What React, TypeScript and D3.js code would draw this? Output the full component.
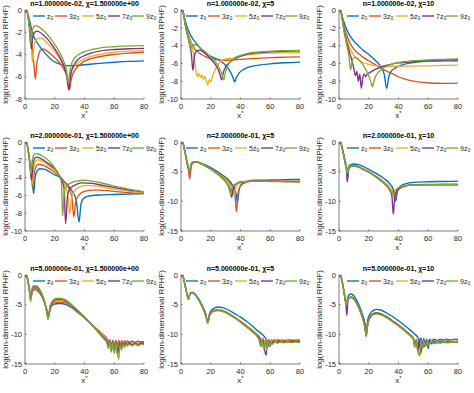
import React from "react";
import * as d3 from "d3";

type Pt = [number, number];

// legend prefixes (label = prefix + "z" + subscript 0)
const legendPrefix = ["", "3", "5", "7", "9"];
const colors = ["#0072BD", "#D95319", "#EDB120", "#7E2F8E", "#77AC30"];
const nValues = ["1.000000e-02", "2.000000e-01", "5.000000e-01"];
const chiValues = ["1.500000e+00", "5", "10"];
const yMins = [[-8, -10, -10], [-10, -15, -15], [-15, -15, -15]];
const yTickSteps = [[2, 2, 2], [2, 5, 5], [5, 5, 5]];
const xTicks = [0, 20, 40, 60, 80];

// ---- n = 1e-2, chi = 1.5
const r1c1Z1: Pt[] = [[0,-0.2],[1,0],[2,-0.4],[3,-0.9],[4,-1.5],[5,-2.0],[6,-2.4],[8,-2.9],[10,-3.3],[12,-3.65],[15,-4.1],[18,-4.5],[22,-4.8],[26,-4.95],[30,-5.0],[35,-4.98],[40,-4.92],[50,-4.8],[60,-4.7],[70,-4.62],[80,-4.57]];
const r1c1Z3: Pt[] = [[0,-0.2],[1,0],[2,-0.6],[3,-1.5],[4,-2.5],[5,-3.6],[6,-4.9],[7,-6.2],[8,-4.8],[9,-4.1],[10,-3.7],[12,-3.5],[14,-3.6],[17,-3.9],[20,-4.3],[23,-4.7],[26,-5.3],[28,-5.9],[29,-6.4],[30,-7.1],[31,-6.3],[32,-5.8],[34,-5.3],[37,-4.9],[40,-4.6],[45,-4.35],[50,-4.2],[60,-4.0],[70,-3.88],[80,-3.8]];
const r1c1Z5: Pt[] = [[0,-0.2],[1,0],[2,-0.5],[3,-1.4],[4,-2.6],[5,-4.7],[6,-3.3],[7,-2.8],[8,-2.6],[10,-2.5],[12,-2.6],[15,-3.0],[18,-3.4],[21,-3.9],[24,-4.5],[26,-5.0],[28,-5.8],[29.5,-7.0],[31,-5.7],[33,-5.1],[36,-4.7],[40,-4.4],[45,-4.15],[50,-4.0],[60,-3.8],[70,-3.7],[80,-3.65]];
const r1c1Z7: Pt[] = [[0,-0.2],[1,0],[2,-0.5],[3,-1.5],[4.3,-3.5],[5,-2.6],[6,-2.1],[7,-1.95],[8,-1.9],[10,-2.0],[12,-2.2],[15,-2.6],[18,-3.1],[21,-3.7],[24,-4.4],[26,-5.0],[28,-5.9],[29.5,-7.2],[31,-5.6],[33,-4.9],[36,-4.4],[40,-4.1],[45,-3.85],[50,-3.7],[60,-3.55],[70,-3.48],[80,-3.45]];
const r1c1Z9: Pt[] = [[0,-0.2],[1,0],[2,-0.6],[3,-1.8],[3.6,-3.1],[4.5,-2.1],[5.5,-1.6],[7,-1.4],[9,-1.5],[12,-1.8],[15,-2.2],[18,-2.7],[21,-3.3],[24,-4.0],[26,-4.6],[28,-5.5],[29,-6.5],[30.5,-5.2],[32,-4.6],[35,-4.1],[40,-3.75],[45,-3.55],[50,-3.42],[60,-3.3],[70,-3.23],[80,-3.2]];

// ---- n = 1e-2, chi = 5
const r1c2Z1: Pt[] = [[0,-0.2],[1,0],[2,-0.6],[3,-1.3],[5,-2.3],[7,-3.0],[10,-3.7],[13,-4.3],[16,-4.8],[20,-5.2],[24,-5.5],[28,-5.9],[31,-6.4],[33,-6.9],[35,-7.6],[36,-8.1],[37,-7.7],[39,-7.1],[42,-6.7],[46,-6.4],[50,-6.25],[60,-6.05],[70,-5.93],[80,-5.85]];
const r1c2Z3: Pt[] = [[0,-0.2],[1,0],[2,-0.7],[3,-1.6],[5,-2.8],[7,-3.7],[9,-4.3],[12,-4.8],[16,-5.2],[20,-5.45],[25,-5.6],[30,-5.65],[35,-5.6],[40,-5.55],[50,-5.45],[60,-5.35],[70,-5.3],[80,-5.27]];
const r1c2Z5: Pt[] = [[0,-0.2],[1,0],[2,-0.7],[3,-1.7],[5,-3.0],[7,-4.0],[8,-4.6],[9,-5.5],[10,-6.8],[11,-7.5],[12,-7.1],[13,-7.6],[14,-7.3],[15,-7.8],[16,-7.4],[17,-8.0],[18,-8.4],[19,-7.8],[20,-8.1],[21,-7.5],[22,-7.1],[23,-6.7],[25,-6.1],[27,-5.7],[30,-5.5],[35,-5.4],[40,-5.15],[50,-4.95],[60,-4.85],[70,-4.82],[80,-4.8]];
const r1c2Z7: Pt[] = [[0,-0.2],[1,0],[2,-0.8],[3,-1.8],[5,-3.3],[6,-4.0],[7,-5.0],[8,-6.8],[9,-5.2],[10,-4.7],[12,-4.5],[14,-4.6],[17,-5.0],[20,-5.5],[23,-6.1],[25,-6.7],[26.3,-7.3],[27.3,-7.85],[28.5,-7.0],[30,-6.4],[32,-6.0],[35,-5.6],[40,-5.2],[45,-4.95],[50,-4.82],[60,-4.7],[70,-4.63],[80,-4.6]];
const r1c2Z9: Pt[] = [[0,-0.2],[1,0],[2,-0.8],[3,-1.8],[5,-3.2],[6.5,-4.4],[7.5,-4.0],[9,-3.9],[11,-4.0],[14,-4.4],[17,-4.8],[20,-5.3],[23,-5.8],[26,-6.6],[27.5,-7.2],[28.7,-7.85],[30,-6.9],[32,-6.1],[35,-5.55],[40,-5.1],[45,-4.88],[50,-4.75],[60,-4.63],[70,-4.57],[80,-4.55]];

// ---- n = 1e-2, chi = 10
const r1c3Z1: Pt[] = [[0,-0.2],[1,0],[2,-0.6],[3,-1.2],[5,-2.1],[7,-2.8],[10,-3.5],[13,-4.0],[16,-4.5],[20,-5.0],[24,-5.6],[27,-6.1],[29,-6.6],[30.5,-7.3],[32,-8.8],[33.5,-7.5],[35,-6.9],[38,-6.5],[42,-6.2],[50,-5.9],[60,-5.7],[70,-5.6],[80,-5.55]];
const r1c3Z3: Pt[] = [[0,-0.2],[1,0],[2,-0.8],[3,-1.6],[5,-2.7],[7,-3.6],[10,-4.4],[13,-4.9],[16,-5.3],[20,-5.7],[25,-6.2],[30,-6.7],[35,-7.1],[40,-7.5],[45,-7.8],[50,-8.0],[55,-8.1],[60,-8.2],[70,-8.25],[80,-8.22]];
const r1c3Z5: Pt[] = [[0,-0.2],[1,0],[2,-0.8],[3,-1.8],[5,-3.2],[7,-4.2],[10,-5.1],[13,-5.6],[16,-5.9],[20,-6.1],[25,-6.25],[30,-6.3],[40,-6.32],[50,-6.3],[60,-6.27],[70,-6.23],[80,-6.2]];
const r1c3Z7: Pt[] = [[0,-0.2],[1,0],[2,-0.8],[3,-1.9],[5,-3.5],[7,-4.7],[8.5,-5.6],[10,-6.6],[11,-7.4],[12,-6.9],[13,-8.0],[14,-7.2],[15,-8.8],[16,-7.6],[17,-7.2],[18,-7.5],[19,-7.2],[21,-7.0],[24,-6.7],[27,-6.5],[30,-6.3],[35,-6.1],[40,-5.95],[50,-5.82],[60,-5.75],[70,-5.72],[80,-5.7]];
const r1c3Z9: Pt[] = [[0,-0.2],[1,0],[2,-0.9],[3,-2.0],[5,-3.8],[6.5,-5.0],[7.8,-6.7],[9,-5.6],[10.5,-5.3],[12,-5.4],[14,-5.7],[16,-6.1],[18,-6.7],[20,-7.4],[21.5,-8.1],[22.5,-8.65],[23.5,-8.0],[25,-7.3],[27,-6.9],[30,-6.5],[35,-6.1],[40,-5.9],[50,-5.7],[60,-5.6],[70,-5.55],[80,-5.5]];

// ---- n = 0.2, chi = 1.5
const r2c1Z1: Pt[] = [[0,-0.2],[1,0],[2,-0.8],[3,-2.0],[4,-3.3],[5,-4.6],[5.8,-5.8],[6.8,-4.0],[8,-3.3],[10,-3.0],[13,-3.05],[16,-3.3],[20,-3.7],[23,-3.9],[26,-4.4],[29,-4.9],[32,-5.6],[34.5,-6.6],[36.3,-9.0],[37.6,-7.0],[39,-6.4],[42,-6.1],[50,-5.95],[60,-5.9],[70,-5.85],[80,-5.8]];
const r2c1Z3: Pt[] = [[0,-0.2],[1,0],[2,-0.8],[3,-2.0],[4,-3.4],[5.3,-5.3],[6.3,-3.4],[7.5,-2.7],[9,-2.5],[12,-2.6],[15,-2.85],[19,-3.3],[23,-3.8],[27,-4.6],[30,-5.4],[31.5,-6.2],[32.8,-8.4],[34,-6.8],[36,-6.0],[40,-5.55],[45,-5.4],[50,-5.4],[60,-5.55],[70,-5.7],[80,-5.8]];
const r2c1Z5: Pt[] = [[0,-0.2],[1,0],[2,-0.8],[3,-2.0],[4,-3.4],[4.9,-4.8],[5.8,-3.0],[7,-2.2],[8.5,-2.0],[11,-2.1],[14,-2.4],[18,-2.9],[21,-3.4],[23,-3.75],[25,-4.3],[27.5,-5.2],[29,-6.2],[30,-8.1],[31.2,-6.4],[33,-5.6],[36,-5.1],[40,-4.9],[45,-4.9],[50,-5.0],[60,-5.3],[70,-5.55],[80,-5.7]];
const r2c1Z7: Pt[] = [[0,-0.2],[1,0],[2,-0.8],[3,-2.0],[4.4,-4.3],[5.3,-2.6],[6.3,-1.9],[7.5,-1.7],[10,-1.8],[13,-2.1],[17,-2.6],[21,-3.2],[23,-3.75],[25,-4.4],[26.3,-5.3],[27.3,-9.2],[28.6,-6.0],[30,-5.3],[33,-4.9],[38,-4.6],[45,-4.65],[50,-4.8],[60,-5.1],[70,-5.4],[80,-5.6]];
const r2c1Z9: Pt[] = [[0,-0.2],[1,0],[2,-0.8],[3,-2.0],[4,-3.6],[4.8,-2.2],[5.8,-1.5],[7,-1.3],[9,-1.35],[12,-1.6],[16,-2.1],[20,-2.9],[23,-3.75],[24.5,-4.6],[25.3,-8.3],[26.5,-5.4],[28,-4.9],[31,-4.6],[35,-4.4],[40,-4.3],[45,-4.4],[50,-4.55],[60,-4.95],[70,-5.3],[80,-5.6]];

// ---- n = 0.2, chi = 5
const r2c2Z1: Pt[] = [[0,-0.2],[1,0],[2,-0.8],[3,-2.0],[4,-3.2],[5,-4.3],[5.8,-5.2],[6.8,-3.9],[8,-3.4],[10,-3.3],[13,-3.5],[16,-3.8],[20,-4.3],[24,-4.9],[28,-5.6],[32,-6.4],[35,-7.4],[37,-8.6],[38,-10.2],[39,-8.0],[41,-7.0],[45,-6.6],[50,-6.45],[60,-6.4],[70,-6.35],[80,-6.3]];
const r2c2Z3: Pt[] = [[0,-0.2],[1,0],[2,-0.9],[3,-2.2],[4,-3.5],[5,-4.7],[5.9,-6.2],[6.9,-4.1],[8,-3.5],[10,-3.4],[13,-3.6],[16,-3.95],[20,-4.5],[24,-5.1],[28,-5.8],[32,-6.7],[35,-7.8],[36.5,-9.5],[37.3,-11.8],[38.3,-8.8],[40,-7.4],[44,-6.8],[50,-6.6],[60,-6.6],[70,-6.6],[80,-6.6]];
const r2c2Z5: Pt[] = [[0,-0.2],[1,0],[2,-0.9],[3,-2.1],[4,-3.4],[5,-4.5],[5.8,-5.4],[6.8,-4.0],[8,-3.5],[10,-3.4],[13,-3.6],[16,-4.0],[20,-4.6],[24,-5.2],[28,-5.9],[32,-6.9],[34.5,-8.0],[35.5,-9.0],[36.8,-7.8],[39,-7.0],[43,-6.7],[50,-6.6],[60,-6.6],[70,-6.62],[80,-6.65]];
const r2c2Z7: Pt[] = [[0,-0.2],[1,0],[2,-0.9],[3,-2.1],[4,-3.4],[5,-4.5],[5.7,-5.3],[6.7,-3.9],[8,-3.4],[10,-3.35],[13,-3.6],[16,-4.0],[20,-4.6],[24,-5.3],[28,-6.1],[31,-7.0],[33,-8.0],[34,-9.3],[35.3,-7.7],[37.5,-7.0],[41,-6.7],[50,-6.6],[60,-6.6],[70,-6.65],[80,-6.7]];
const r2c2Z9: Pt[] = [[0,-0.2],[1,0],[2,-0.9],[3,-2.1],[4,-3.3],[5,-4.4],[5.6,-5.0],[6.6,-3.8],[8,-3.3],[10,-3.3],[13,-3.55],[16,-3.95],[20,-4.6],[24,-5.3],[28,-6.2],[31,-7.1],[32.5,-8.0],[33.3,-8.8],[34.5,-7.6],[37,-7.0],[41,-6.7],[50,-6.6],[60,-6.65],[70,-6.7],[80,-6.75]];

// ---- n = 0.2, chi = 10
const r2c3Z1: Pt[] = [[0,-0.2],[1,0],[2,-0.8],[3,-1.9],[4,-3.0],[5,-4.1],[5.7,-5.0],[6.7,-4.1],[8,-3.8],[10,-3.7],[13,-3.8],[16,-4.1],[20,-4.6],[25,-5.3],[30,-6.1],[34,-7.0],[36.5,-8.0],[38,-10.0],[39.3,-8.3],[41,-7.5],[45,-7.0],[50,-6.8],[60,-6.7],[70,-6.65],[80,-6.6]];
const r2c3Z3: Pt[] = [[0,-0.2],[1,0],[2,-0.9],[3,-2.0],[4,-3.2],[5,-4.3],[5.7,-5.2],[6.7,-4.4],[8,-4.1],[10,-4.0],[13,-4.15],[16,-4.5],[20,-5.0],[25,-5.8],[30,-6.7],[34,-7.7],[36.5,-8.7],[37.5,-9.6],[38.7,-8.5],[41,-7.8],[45,-7.4],[50,-7.2],[60,-7.15],[70,-7.12],[80,-7.1]];
const r2c3Z5: Pt[] = [[0,-0.2],[1,0],[2,-0.9],[3,-2.0],[4,-3.2],[5,-4.4],[5.7,-5.3],[6.7,-4.4],[8,-4.1],[10,-4.0],[13,-4.2],[16,-4.55],[20,-5.05],[25,-5.85],[30,-6.8],[34,-7.8],[36.2,-8.6],[37.2,-9.3],[38.4,-8.4],[41,-7.8],[45,-7.4],[50,-7.25],[60,-7.2],[70,-7.15],[80,-7.15]];
const r2c3Z7: Pt[] = [[0,-0.2],[1,0],[2,-0.9],[3,-2.1],[4,-3.4],[5,-4.8],[5.6,-6.7],[6.6,-4.5],[8,-4.1],[10,-4.05],[13,-4.2],[16,-4.6],[20,-5.1],[25,-5.9],[30,-6.9],[33.5,-7.9],[35.5,-9.0],[36.5,-12.2],[37.5,-9.2],[39,-8.2],[42,-7.6],[46,-7.3],[50,-7.2],[60,-7.2],[70,-7.2],[80,-7.2]];
const r2c3Z9: Pt[] = [[0,-0.2],[1,0],[2,-0.9],[3,-2.1],[4,-3.3],[5,-4.5],[5.6,-5.3],[6.6,-4.4],[8,-4.1],[10,-4.05],[13,-4.25],[16,-4.6],[20,-5.1],[25,-5.95],[30,-6.9],[33,-7.7],[35.5,-8.5],[36.5,-9.0],[37.7,-8.2],[40,-7.7],[44,-7.4],[50,-7.25],[60,-7.2],[70,-7.2],[80,-7.2]];

// ---- n = 0.5, chi = 1.5
const r3c1Z1: Pt[] = [[0,-0.2],[1,0],[2,-1.0],[3,-2.5],[3.8,-4.0],[4.8,-2.9],[6,-2.5],[7.5,-2.5],[9,-2.8],[11,-3.5],[13,-4.6],[14.7,-5.8],[15.9,-6.6],[17,-5.6],[19,-5.0],[21,-4.85],[24,-4.8],[27,-4.95],[30,-5.3],[34,-6.0],[38,-6.8],[42,-7.7],[46,-8.6],[50,-9.5],[53,-10.2],[55,-10.7],[56,-11.3],[57,-10.9],[58,-11.8],[59,-11.2],[60,-12.0],[61,-11.1],[62,-11.8],[63,-11.1],[64,-11.6],[65,-11.1],[66,-11.5],[67,-11.1],[68,-11.45],[69,-11.1],[70,-11.4],[72,-11.15],[74,-11.35],[76,-11.15],[78,-11.3],[80,-11.2]];
const r3c1Z3: Pt[] = [[0,-0.2],[1,0],[2,-1.1],[3,-2.7],[3.8,-4.4],[4.8,-2.8],[6,-2.3],[7.5,-2.3],[9,-2.6],[11,-3.3],[13,-4.5],[14.7,-5.9],[15.9,-6.9],[17,-5.5],[19,-4.8],[21,-4.6],[24,-4.55],[27,-4.7],[30,-5.1],[34,-5.85],[38,-6.7],[42,-7.6],[46,-8.6],[50,-9.6],[53,-10.3],[55,-10.8],[56,-11.6],[57,-10.9],[58,-12.1],[59,-11.0],[60,-12.4],[61,-11.0],[62,-12.0],[63,-11.0],[64,-11.7],[65,-11.1],[66,-11.6],[67,-11.1],[68,-11.5],[69,-11.15],[70,-11.45],[72,-11.2],[74,-11.4],[76,-11.2],[78,-11.35],[80,-11.25]];
const r3c1Z5: Pt[] = [[0,-0.2],[1,0],[2,-1.1],[3,-2.6],[3.7,-4.1],[4.7,-2.6],[6,-2.1],[7.5,-2.1],[9,-2.4],[11,-3.2],[13,-4.4],[14.6,-5.9],[15.8,-7.0],[17,-5.4],[19,-4.6],[21,-4.35],[24,-4.3],[27,-4.5],[30,-4.95],[34,-5.75],[38,-6.65],[42,-7.6],[46,-8.6],[50,-9.7],[53,-10.4],[55,-11.0],[56,-12.0],[57,-11.0],[58,-12.6],[59,-11.1],[60,-13.0],[61,-11.2],[62,-13.5],[63,-11.3],[64,-12.2],[65,-11.3],[66,-11.9],[67,-11.3],[68,-11.7],[69,-11.35],[70,-11.65],[72,-11.35],[74,-11.6],[76,-11.35],[78,-11.55],[80,-11.45]];
const r3c1Z7: Pt[] = [[0,-0.2],[1,0],[2,-1.1],[3,-2.6],[3.6,-3.9],[4.6,-2.5],[6,-2.0],[7.5,-2.0],[9,-2.3],[11,-3.1],[13,-4.4],[14.5,-6.0],[15.7,-7.2],[17,-5.3],[19,-4.4],[21,-4.15],[24,-4.1],[27,-4.35],[30,-4.85],[34,-5.7],[38,-6.6],[42,-7.6],[46,-8.7],[50,-9.8],[53,-10.6],[55,-11.2],[56,-12.2],[57,-11.1],[58,-12.8],[59,-11.2],[60,-13.0],[61,-11.3],[62.5,-13.2],[63.5,-11.4],[64.5,-12.3],[65.5,-11.4],[66.5,-12.0],[67.5,-11.4],[68.5,-11.8],[70,-11.45],[72,-11.75],[74,-11.45],[76,-11.7],[78,-11.45],[80,-11.6]];
const r3c1Z9: Pt[] = [[0,-0.2],[1,0],[2,-1.2],[3,-2.7],[3.5,-3.8],[4.5,-2.3],[6,-1.8],[7.5,-1.8],[9,-2.1],[11,-2.9],[13,-4.3],[14.4,-6.0],[15.5,-7.5],[16.8,-5.2],[19,-4.2],[21,-3.95],[24,-3.9],[27,-4.15],[30,-4.7],[34,-5.6],[38,-6.55],[42,-7.6],[46,-8.7],[50,-9.9],[53,-10.8],[55,-11.4],[56,-12.4],[57,-11.3],[58,-13.0],[59,-11.4],[60,-13.2],[61,-11.5],[62,-13.0],[63,-14.2],[64,-11.6],[65,-12.6],[66,-11.6],[67,-12.2],[68,-11.6],[69,-12.0],[70,-11.65],[72,-11.95],[74,-11.65],[76,-11.9],[78,-11.65],[80,-11.8]];

// ---- n = 0.5, chi = 5
const r3c2Z1: Pt[] = [[0,-0.2],[1,0],[2,-0.8],[3,-2.0],[4,-3.1],[5,-3.9],[6,-3.2],[7.5,-2.9],[9,-3.1],[11,-3.7],[13,-4.5],[15,-5.5],[16.7,-6.6],[18,-7.9],[19.2,-6.5],[21,-5.8],[23,-5.5],[25,-5.4],[28,-5.5],[32,-5.9],[36,-6.5],[40,-7.1],[44,-7.8],[48,-8.6],[52,-9.5],[55,-10.1],[57,-10.7],[58,-11.6],[59,-10.9],[60,-12.0],[61,-10.9],[62,-11.4],[63,-10.9],[64,-11.2],[65,-10.9],[66,-11.15],[68,-10.95],[70,-11.1],[72,-10.95],[75,-11.05],[78,-10.95],[80,-11.0]];
const r3c2Z3: Pt[] = [[0,-0.2],[1,0],[2,-0.9],[3,-2.1],[4,-3.2],[5,-4.1],[6,-3.2],[7.5,-3.0],[9,-3.2],[11,-3.8],[13,-4.7],[15,-5.7],[16.7,-6.8],[18,-8.0],[19.2,-6.7],[21,-6.1],[23,-5.9],[25,-5.85],[28,-6.0],[32,-6.45],[36,-7.1],[40,-7.8],[44,-8.5],[48,-9.3],[51,-10.0],[53,-10.5],[54,-11.4],[55,-10.6],[56,-12.0],[57,-10.8],[58,-12.3],[59,-10.9],[60,-11.6],[61,-10.95],[62,-11.4],[63,-10.95],[64,-11.25],[66,-11.0],[68,-11.2],[70,-11.0],[72,-11.15],[75,-11.0],[78,-11.1],[80,-11.05]];
const r3c2Z5: Pt[] = [[0,-0.2],[1,0],[2,-0.9],[3,-2.1],[4,-3.2],[5,-4.1],[6,-3.2],[7.5,-3.0],[9,-3.2],[11,-3.8],[13,-4.7],[15,-5.7],[16.7,-6.8],[18,-8.0],[19.2,-6.8],[21,-6.15],[23,-5.95],[25,-5.9],[28,-6.05],[32,-6.5],[36,-7.15],[40,-7.85],[44,-8.6],[48,-9.4],[51,-10.1],[53,-10.7],[54,-11.8],[55,-10.7],[56,-12.3],[57,-10.9],[58,-12.0],[59,-11.0],[60,-11.7],[61,-11.0],[62,-11.5],[64,-11.1],[66,-11.35],[68,-11.1],[70,-11.3],[72,-11.1],[75,-11.25],[78,-11.1],[80,-11.2]];
const r3c2Z7: Pt[] = [[0,-0.2],[1,0],[2,-0.9],[3,-2.1],[4,-3.2],[5,-4.1],[6,-3.2],[7.5,-3.0],[9,-3.2],[11,-3.8],[13,-4.7],[15,-5.7],[16.7,-6.9],[18,-8.1],[19.2,-6.8],[21,-6.2],[23,-6.0],[25,-5.95],[28,-6.1],[32,-6.55],[36,-7.2],[40,-7.9],[44,-8.7],[48,-9.5],[51,-10.2],[53,-10.8],[54,-12.0],[55,-10.8],[56,-12.5],[57.3,-13.5],[58,-11.0],[59,-12.0],[60,-11.1],[61,-11.6],[62,-11.1],[64,-11.4],[66,-11.15],[68,-11.35],[70,-11.15],[72,-11.3],[75,-11.15],[78,-11.25],[80,-11.2]];
const r3c2Z9: Pt[] = [[0,-0.2],[1,0],[2,-0.9],[3,-2.1],[4,-3.2],[5,-4.1],[6,-3.2],[7.5,-3.0],[9,-3.2],[11,-3.8],[13,-4.7],[15,-5.8],[16.7,-7.0],[18,-8.1],[19.2,-6.9],[21,-6.3],[23,-6.05],[25,-6.0],[28,-6.15],[32,-6.6],[36,-7.25],[40,-7.95],[44,-8.75],[48,-9.6],[51,-10.3],[52.5,-11.0],[53.5,-12.0],[54.5,-10.9],[55.5,-12.4],[56.5,-11.0],[57.5,-12.6],[58.5,-11.1],[59.5,-12.0],[60.5,-11.2],[61.5,-11.7],[63,-11.2],[65,-11.5],[67,-11.25],[69,-11.45],[71,-11.25],[74,-11.4],[77,-11.3],[80,-11.4]];

// ---- n = 0.5, chi = 10
const r3c3Z1: Pt[] = [[0,-0.2],[1,0],[2,-0.9],[3,-2.2],[4,-3.6],[5,-4.8],[6,-3.7],[7,-3.3],[8.3,-3.2],[10,-3.5],[12,-4.3],[14,-5.4],[16,-6.8],[17.5,-8.2],[18.3,-9.5],[19.3,-7.6],[21,-6.5],[23,-6.0],[25,-5.8],[28,-5.9],[32,-6.4],[36,-7.0],[40,-7.7],[44,-8.5],[48,-9.3],[51,-10.0],[53,-10.5],[54,-11.3],[55,-10.6],[56,-11.8],[57,-10.7],[58,-12.0],[59,-10.8],[60,-12.4],[61,-10.8],[62,-11.2],[64,-10.8],[66,-11.05],[68,-10.8],[70,-11.0],[72,-10.8],[75,-10.95],[78,-10.8],[80,-10.85]];
const r3c3Z3: Pt[] = [[0,-0.2],[1,0],[2,-0.9],[3,-2.3],[4,-3.8],[5,-5.0],[6,-4.1],[7,-3.8],[8.3,-3.7],[10,-4.0],[12,-4.8],[14,-5.9],[16,-7.3],[17.5,-8.8],[18.3,-10.2],[19.3,-8.2],[21,-7.0],[23,-6.5],[25,-6.35],[28,-6.5],[32,-7.0],[36,-7.7],[40,-8.4],[44,-9.2],[48,-10.1],[50,-10.6],[51,-11.6],[52,-10.8],[53,-12.4],[54,-11.0],[55,-12.8],[56,-11.1],[57,-12.0],[58,-11.1],[59,-11.6],[60,-11.1],[62,-11.4],[64,-11.1],[66,-11.3],[68,-11.1],[70,-11.25],[73,-11.1],[76,-11.2],[80,-11.15]];
const r3c3Z5: Pt[] = [[0,-0.2],[1,0],[2,-0.9],[3,-2.3],[4,-3.8],[5,-5.0],[6,-4.1],[7,-3.8],[8.3,-3.7],[10,-4.0],[12,-4.8],[14,-5.9],[16,-7.3],[17.5,-8.9],[18.3,-10.4],[19.3,-8.3],[21,-7.1],[23,-6.6],[25,-6.45],[28,-6.6],[32,-7.1],[36,-7.8],[40,-8.5],[44,-9.3],[48,-10.2],[50,-10.7],[51,-11.8],[52,-10.9],[53,-12.6],[54.5,-13.5],[55.3,-11.1],[56,-12.3],[57,-11.1],[58,-11.8],[59,-11.15],[60,-11.6],[62,-11.2],[64,-11.45],[66,-11.2],[68,-11.35],[70,-11.2],[73,-11.3],[76,-11.2],[80,-11.25]];
const r3c3Z7: Pt[] = [[0,-0.2],[1,0],[2,-1.0],[3,-2.4],[4,-4.0],[4.8,-5.3],[5.3,-6.8],[6,-4.3],[7,-3.8],[8.3,-3.75],[10,-4.05],[12,-4.85],[14,-5.95],[16,-7.35],[17.5,-8.9],[18.3,-10.3],[19.3,-8.3],[21,-7.1],[23,-6.6],[25,-6.45],[28,-6.6],[32,-7.1],[36,-7.8],[40,-8.55],[44,-9.35],[48,-10.25],[50,-10.8],[51,-12.0],[52,-11.0],[53,-12.8],[54,-11.1],[55,-13.2],[56,-11.2],[57,-12.2],[58,-11.2],[59,-11.8],[60,-11.2],[62,-11.6],[64,-11.25],[66,-11.45],[68,-11.25],[70,-11.4],[73,-11.25],[76,-11.35],[80,-11.3]];
const r3c3Z9: Pt[] = [[0,-0.2],[1,0],[2,-1.0],[3,-2.4],[4,-3.9],[5,-5.1],[6,-4.2],[7,-3.9],[8.3,-3.8],[10,-4.1],[12,-4.9],[14,-6.0],[16,-7.4],[17.5,-9.0],[18.3,-10.2],[19.3,-8.4],[21,-7.2],[23,-6.7],[25,-6.55],[28,-6.7],[32,-7.2],[36,-7.9],[40,-8.6],[44,-9.4],[48,-10.3],[50,-10.9],[51,-12.2],[52,-11.1],[53,-13.0],[54.3,-13.6],[55,-11.2],[56,-12.4],[57,-11.3],[58,-12.0],[59,-11.3],[60,-11.8],[62,-11.3],[64,-11.6],[66,-11.3],[68,-11.5],[70,-11.3],[73,-11.45],[76,-11.3],[80,-11.4]];

const panelSeries: Pt[][][][] = [
  [[r1c1Z1, r1c1Z3, r1c1Z5, r1c1Z7, r1c1Z9], [r1c2Z1, r1c2Z3, r1c2Z5, r1c2Z7, r1c2Z9], [r1c3Z1, r1c3Z3, r1c3Z5, r1c3Z7, r1c3Z9]],
  [[r2c1Z1, r2c1Z3, r2c1Z5, r2c1Z7, r2c1Z9], [r2c2Z1, r2c2Z3, r2c2Z5, r2c2Z7, r2c2Z9], [r2c3Z1, r2c3Z3, r2c3Z5, r2c3Z7, r2c3Z9]],
  [[r3c1Z1, r3c1Z3, r3c1Z5, r3c1Z7, r3c1Z9], [r3c2Z1, r3c2Z3, r3c2Z5, r3c2Z7, r3c2Z9], [r3c3Z1, r3c3Z3, r3c3Z5, r3c3Z7, r3c3Z9]],
];

const W = 474;
const H = 393;
const colLeft = [25, 181, 339];
const rowTop = [10, 142, 275];
const plotW = 119;
const plotH = 89;
const legendOffsets = [8, 30, 57, 83, 107];
const axisColor = "#262626";
const font = "Liberation Sans, Arial, Helvetica, sans-serif";

function Panel({ row, col }: { row: number; col: number }) {
  const left = colLeft[col];
  const top = rowTop[row];
  const yMin = yMins[row][col];
  const step = yTickSteps[row][col];
  const x = d3.scaleLinear().domain([0, 80]).range([left, left + plotW]);
  const y = d3.scaleLinear().domain([yMin, 0]).range([top + plotH, top]);
  const yTicks = d3.range(0, yMin - 0.001, -step);
  const line = d3
    .line<Pt>()
    .x((d) => x(d[0]))
    .y((d) => y(d[1]))
    .curve(d3.curveMonotoneX);
  const clipId = `clip-${row}-${col}`;
  const bottom = top + plotH;
  const legendOffsetX = col === 1 ? -3 : 0;

  return (
    <g fontFamily={font}>
      <defs>
        <clipPath id={clipId}>
          <rect x={left} y={top} width={plotW} height={plotH} />
        </clipPath>
      </defs>
      <g clipPath={`url(#${clipId})`}>
        {panelSeries[row][col].map((s, i) => (
          <path key={i} d={line(s) || ""} fill="none" stroke={colors[i]} strokeWidth={1.35} />
        ))}
      </g>
      {/* axes */}
      <line x1={left} x2={left} y1={top} y2={bottom} stroke={axisColor} strokeWidth={0.6} />
      <line x1={left} x2={left + plotW} y1={bottom} y2={bottom} stroke={axisColor} strokeWidth={0.6} />
      {xTicks.map((t) => (
        <g key={t}>
          <line x1={x(t)} x2={x(t)} y1={bottom} y2={bottom - 1.5} stroke={axisColor} strokeWidth={0.6} />
          <text x={x(t)} y={bottom + 10} fontSize={7.5} textAnchor="middle" fill={axisColor}>
            {t}
          </text>
        </g>
      ))}
      {yTicks.map((t) => (
        <g key={t}>
          <line x1={left} x2={left + 1.5} y1={y(t)} y2={y(t)} stroke={axisColor} strokeWidth={0.6} />
          <text x={left - 3} y={y(t) + 2.7} fontSize={7.5} textAnchor="end" fill={axisColor}>
            {t}
          </text>
        </g>
      ))}
      {/* axis labels */}
      <text x={x(40)} y={bottom + 19} fontSize={8} textAnchor="middle" fill={axisColor}>
        x<tspan dy={-3.5} fontSize={6}>*</tspan>
      </text>
      <text
        transform={`translate(${left - 17.5},${top + plotH / 2}) rotate(-90)`}
        fontSize={8}
        textAnchor="middle"
        fill={axisColor}
      >
        log(non-dimensional RPHF)
      </text>
      {/* title */}
      <text x={x(40)} y={top - 4} fontSize={7} fontWeight="bold" textAnchor="middle" fill="#000">
        n={nValues[row]}, χ={chiValues[col]}
      </text>
      {/* legend */}
      {legendPrefix.map((p, i) => {
        const lx = left + legendOffsets[i] + legendOffsetX;
        const ly = top + 6;
        return (
          <g key={i}>
            <line x1={lx} x2={lx + 12} y1={ly} y2={ly} stroke={colors[i]} strokeWidth={1.35} />
            <text x={lx + 14} y={ly + 2.5} fontSize={7} fill={axisColor}>
              {p}z<tspan dy={1.8} fontSize={5}>0</tspan>
            </text>
          </g>
        );
      })}
    </g>
  );
}

export default function App() {
  return (
    <svg
      width={W}
      height={H}
      viewBox={`0 0 ${W} ${H}`}
      style={{ position: "absolute", left: 0, top: 0, background: "#fff" }}
    >
      <rect width={W} height={H} fill="#fff" />
      {[0, 1, 2].map((r) =>
        [0, 1, 2].map((c) => <Panel key={`${r}-${c}`} row={r} col={c} />)
      )}
    </svg>
  );
}
